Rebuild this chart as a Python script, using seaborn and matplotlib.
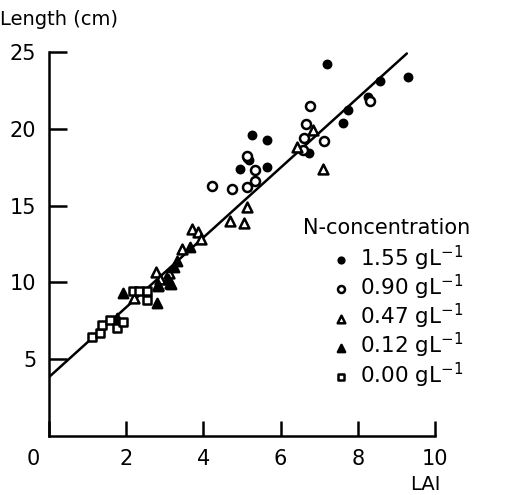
import numpy as np
import pandas as pd
import matplotlib.pyplot as plt
import matplotlib.transforms as mtransforms
import seaborn as sns

# LAI / length readings per N-concentration
lai_155 = [7.19, 9.31, 8.58, 8.27, 7.75, 7.62, 5.25, 5.66, 4.95, 5.19, 5.64, 6.74, 5.14]
len_155 = [24.2, 23.35, 23.1, 22.1, 21.2, 20.4, 19.6, 19.3, 17.4, 18.0, 17.5, 18.4, 18.1]

lai_090 = [6.76, 8.32, 6.66, 6.61, 7.12, 6.59, 5.14, 5.34, 5.34, 5.12, 4.73, 4.21]
len_090 = [21.5, 21.8, 20.3, 19.4, 19.2, 18.6, 18.2, 17.3, 16.6, 16.2, 16.1, 16.3]

lai_047 = [6.85, 6.42, 7.11, 5.12, 4.69, 5.05, 3.70, 3.87, 3.94, 3.44, 2.77, 3.12, 2.88, 3.13, 2.21, 2.83]
len_047 = [19.9, 18.8, 17.4, 14.9, 14.0, 13.9, 13.5, 13.3, 12.8, 12.2, 10.7, 10.6, 10.2, 9.94, 9.0, 9.83]

lai_012 = [3.65, 3.31, 3.25, 3.09, 2.83, 2.79, 1.92, 1.75, 3.15]
len_012 = [12.3, 11.4, 11.0, 10.2, 9.8, 8.64, 9.33, 7.66, 9.9]

lai_000 = [1.11, 1.32, 1.37, 1.58, 1.75, 1.92, 2.17, 2.34, 2.53, 2.55]
len_000 = [6.42, 6.69, 7.23, 7.55, 7.05, 7.44, 9.44, 9.44, 9.44, 8.85]

fit_x = [0.0, 9.27]
fit_y = [3.84, 24.9]

groups = ['1.55', '0.90', '0.47', '0.12', '0.00']
df = pd.concat([
    pd.DataFrame({'LAI': x, 'Length': y, 'N': g})
    for x, y, g in zip([lai_155, lai_090, lai_047, lai_012, lai_000],
                       [len_155, len_090, len_047, len_012, len_000], groups)
])

sns.set_style('ticks')
plt.rcParams['font.family'] = ['DejaVu Sans']

fig = plt.figure(figsize=(5.13, 4.95), dpi=100)
ax = fig.add_axes([0.0955, 0.119, 0.7525, 0.776])

ax.plot(fit_x, fit_y, color='black', linewidth=1.8, zorder=1)

styles = {
    '1.55': dict(marker='o', s=28, facecolor='black'),
    '0.90': dict(marker='o', s=42, facecolor='white'),
    '0.47': dict(marker='^', s=50, facecolor='white'),
    '0.12': dict(marker='^', s=45, facecolor='black'),
    '0.00': dict(marker='s', s=40, facecolor='white'),
}
handles = []
for g in groups:
    st = styles[g]
    sub = df[df['N'] == g]
    sns.scatterplot(data=sub, x='LAI', y='Length', ax=ax, marker=st['marker'], s=st['s'],
                    color=st['facecolor'], edgecolor='black', linewidth=1.8, zorder=3)
    h = ax.scatter([], [], marker=st['marker'], s=st['s'] * 0.6, facecolor=st['facecolor'],
                   edgecolor='black', linewidth=1.8)
    handles.append(h)

ax.set_xlim(0, 10)
ax.set_ylim(0, 25)
ax.set_xticks([0, 2, 4, 6, 8, 10])
ax.set_yticks([5, 10, 15, 20, 25])
ax.set_xticklabels(['0', '2', '4', '6', '8', '10'])
ax.tick_params(direction='in', length=11, width=1.8, labelsize=15, colors='black', pad=9)
ax.tick_params(axis='y', length=13)
for s in ['top', 'right']:
    ax.spines[s].set_visible(False)
for s in ['left', 'bottom']:
    ax.spines[s].set_linewidth(1.8)
    ax.spines[s].set_color('black')
ax.set_xlabel('')
ax.set_ylabel('')

# origin label sits left of the axis in the original
lbl0 = ax.get_xticklabels()[0]
lbl0.set_transform(lbl0.get_transform() + mtransforms.ScaledTranslation(-0.16, 0, fig.dpi_scale_trans))

fig.text(0.0, 0.96, 'Length (cm)', fontsize=14, ha='left', va='center', color='black')
fig.text(0.83, 0.022, 'LAI', fontsize=14, ha='center', va='center', color='black')

fig.text(0.59, 0.539, 'N-concentration', fontsize=15, ha='left', va='center', color='black')
labels = [f'{g} gL$^{{-1}}$' for g in groups]
ax.legend(handles, labels, loc='upper left', bbox_to_anchor=(0.64, 0.508),
          bbox_transform=fig.transFigure, frameon=False, fontsize=15.5,
          handletextpad=0.25, labelspacing=0.0, borderaxespad=0, borderpad=0,
          handlelength=1.2, labelcolor='black')

fig.savefig('out.png', dpi=100)
